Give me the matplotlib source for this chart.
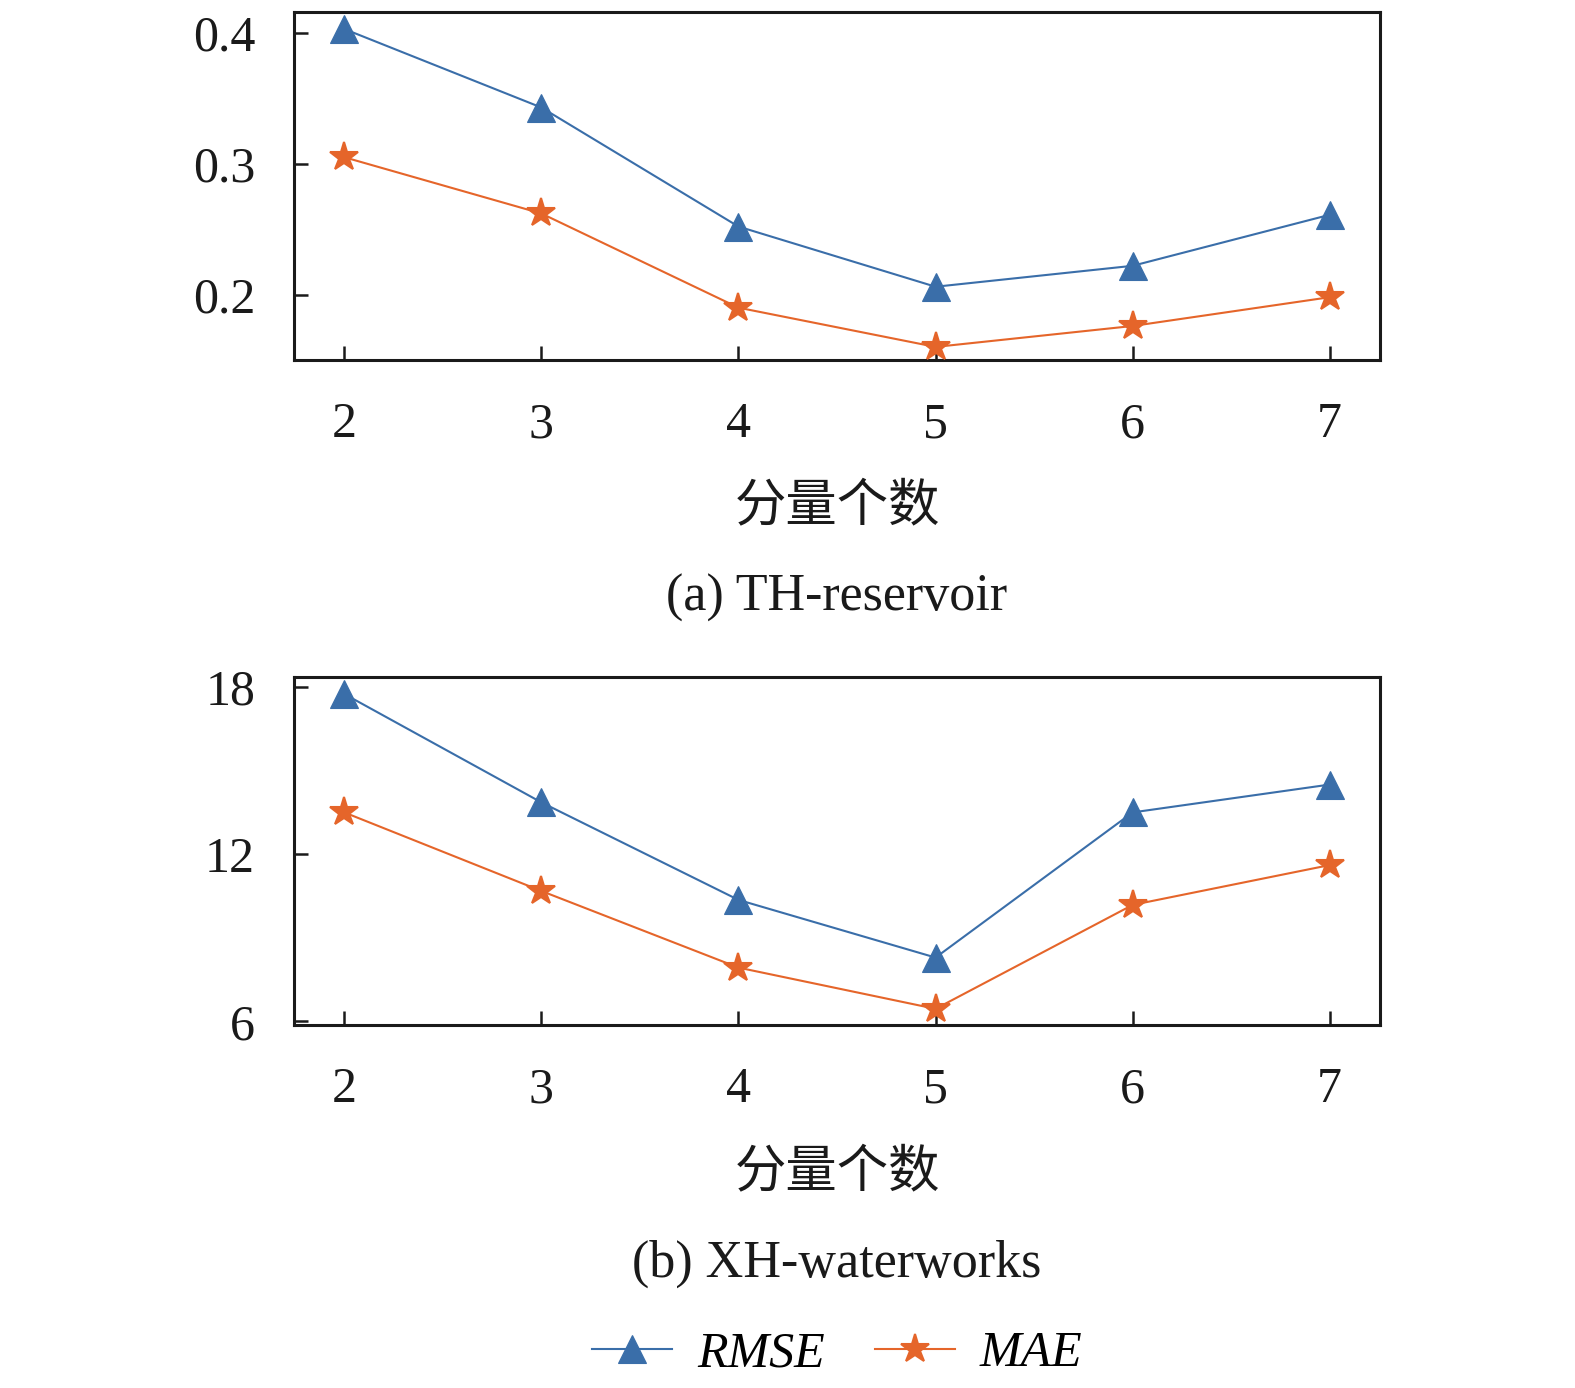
import matplotlib
matplotlib.use("Agg")
import matplotlib.pyplot as plt

plt.rcParams["font.family"] = ["Liberation Serif", "Noto Sans CJK SC"]

# number of components
n_components = [2, 3, 4, 5, 6, 7]

# (a) TH-reservoir
th_rmse = [0.403, 0.343, 0.252, 0.206, 0.222, 0.261]
th_mae = [0.305, 0.262, 0.190, 0.160, 0.176, 0.198]

# (b) XH-waterworks
xh_rmse = [17.75, 13.86, 10.36, 8.29, 13.5, 14.5]
xh_mae = [13.5, 10.68, 7.93, 6.45, 10.18, 11.61]

th_yticks = [0.2, 0.3, 0.4]
th_yticklabels = ["0.2", "0.3", "0.4"]
xh_yticks = [6, 12, 18]
xh_yticklabels = ["6", "12", "18"]

xlabel = "分量个数"
captions = ["(a) TH-reservoir", "(b) XH-waterworks"]

BLUE = "#3a6ea9"
ORANGE = "#e5652a"
FS = 36

W, H = 1575, 1388
fig = plt.figure(figsize=(W / 100, H / 100), dpi=100)


def px_box(left, top, right, bottom):
    return [left / W, 1 - bottom / H, (right - left) / W, (bottom - top) / H]


def draw_panel(ax, rmse, mae, ylim, yticks, yticklabels):
    l1, = ax.plot(n_components, rmse, color=BLUE, lw=1.5, marker="^",
                  ms=20, mec=BLUE, mew=0.8, label="RMSE", clip_on=False, zorder=3)
    l2, = ax.plot(n_components, mae, color=ORANGE, lw=1.5, marker="*",
                  ms=21, mec=ORANGE, mew=1.5, label="MAE", clip_on=False, zorder=3)
    ax.set_xlim(1.745, 7.255)
    ax.set_ylim(*ylim)
    ax.set_xticks(n_components)
    ax.set_xticklabels([str(n) for n in n_components])
    ax.set_yticks(yticks)
    ax.set_yticklabels(yticklabels)
    ax.tick_params(axis="both", direction="in", labelsize=FS, width=1.8,
                   length=10, pad=28, colors="#1a1a1a", labelcolor="#1a1a1a")
    ax.tick_params(axis="x", pad=30)
    for sp in ax.spines.values():
        sp.set_linewidth(2.2)
        sp.set_color("#1a1a1a")
    return l1, l2


LEFT, RIGHT = 294, 1380

ax1 = fig.add_axes(px_box(LEFT, 12, RIGHT, 360))
draw_panel(ax1, th_rmse, th_mae, (0.150, 0.416), th_yticks, th_yticklabels)

ax2 = fig.add_axes(px_box(LEFT, 677, RIGHT, 1025))
handles = draw_panel(ax2, xh_rmse, xh_mae, (5.87, 18.36), xh_yticks, xh_yticklabels)

cx = (LEFT + RIGHT) / 2 / W
for y_lab, y_cap, cap in [(507, 598, captions[0]), (1173, 1264, captions[1])]:
    fig.text(cx, 1 - y_lab / H, xlabel, ha="center", va="center", fontsize=37,
             color="#1a1a1a")
    fig.text(cx, 1 - y_cap / H, cap, ha="center", va="center", fontsize=37.5,
             color="#1a1a1a")

leg = fig.legend(handles, ["RMSE", "MAE"], loc="center", bbox_to_anchor=(cx, 1 - 1354 / H),
                 ncol=2, frameon=False, handlelength=1.6,
                 handletextpad=0.5, columnspacing=1.0,
                 prop={"style": "italic", "size": FS, "family": "Liberation Serif"})

fig.savefig("out.png", dpi=100)
